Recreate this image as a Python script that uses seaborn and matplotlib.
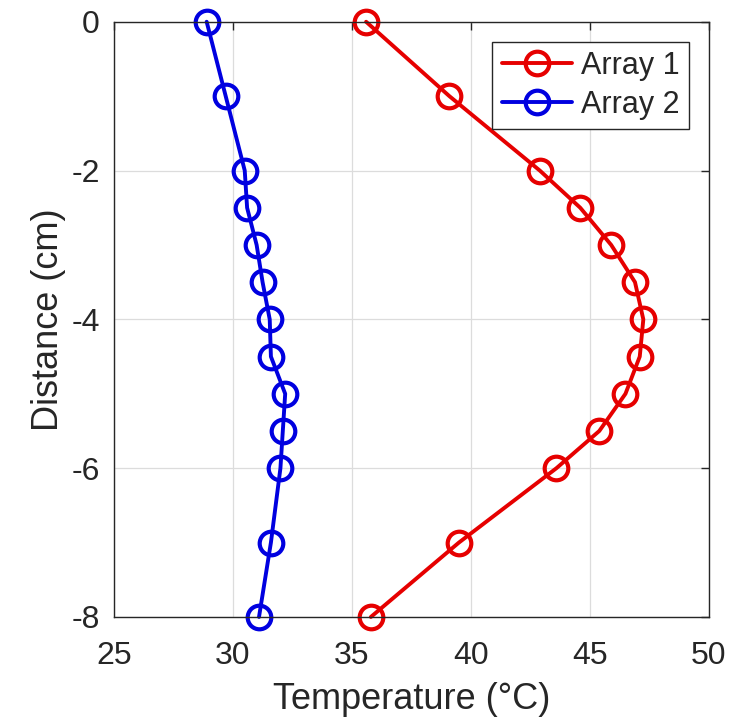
import seaborn as sns
import pandas as pd
import matplotlib.pyplot as plt

# distance below surface (cm) and temperature readings (°C)
distance = [0, -1, -2, -2.5, -3, -3.5, -4, -4.5, -5, -5.5, -6, -7, -8]
array1 = [35.6, 39.1, 42.9, 44.6, 45.9, 46.9, 47.25, 47.1, 46.5, 45.4, 43.6, 39.5, 35.8]
array2 = [28.9, 29.7, 30.5, 30.6, 31.0, 31.25, 31.55, 31.6, 32.2, 32.1, 32.0, 31.6, 31.1]

series = {'Array 1': (array1, '#e60000'), 'Array 2': (array2, '#0000e0')}

sns.set_style('white')
plt.rcParams['font.family'] = ['Liberation Sans', 'DejaVu Sans']
plt.rcParams['axes.unicode_minus'] = False

fig = plt.figure(figsize=(7.54, 7.25), dpi=100)
ax = fig.add_axes([0.151, 0.149, 0.789, 0.821])

for name, (temps, col) in series.items():
    df = pd.DataFrame({'temp': temps, 'dist': distance})
    sns.lineplot(data=df, x='temp', y='dist', orient='y', errorbar=None, ax=ax,
                 color=col, lw=2.8, marker='o', markersize=17, mfc='none',
                 mec=col, mew=3.0, label=name)

ax.set_xlim(25, 50)
ax.set_ylim(-8, 0)
ax.set_xticks([25, 30, 35, 40, 45, 50])
ax.set_yticks([0, -2, -4, -6, -8])
ax.grid(True, color='#dcdcdc', lw=0.9)
ax.set_axisbelow(True)

dark = '#262626'
for s in ax.spines.values():
    s.set_color(dark)
    s.set_linewidth(1.0)
ax.tick_params(direction='in', length=6, width=1, color=dark, labelcolor=dark,
               labelsize=23, top=True, right=True, pad=10)
ax.tick_params(axis='x', pad=17)
ax.set_xlabel('Temperature (°C)', fontsize=26, color=dark, labelpad=8)
ax.set_ylabel('Distance (cm)', fontsize=26, color=dark, labelpad=4)

for ln in ax.lines:
    ln.set_clip_on(False)

leg = ax.legend(loc='upper right', fontsize=22, frameon=True, fancybox=False,
                framealpha=1, edgecolor=dark, handlelength=2.3,
                borderpad=0.3, labelspacing=0.3, handletextpad=0.3,
                borderaxespad=0.65)
leg.get_frame().set_linewidth(1.0)

fig.savefig('out.png', dpi=100)
